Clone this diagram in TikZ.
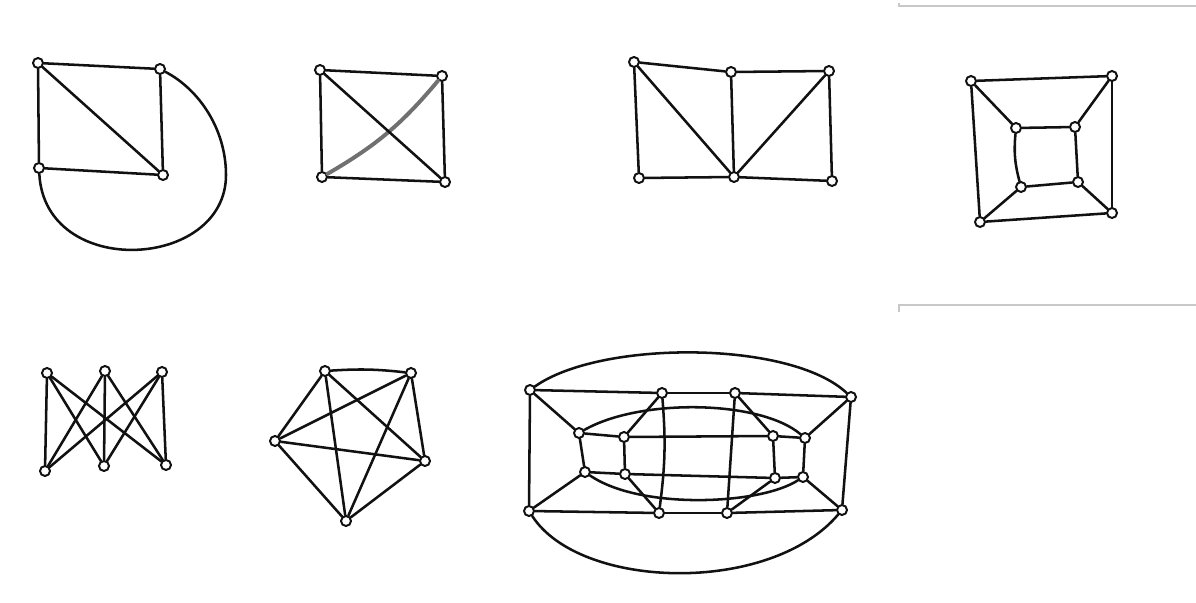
\documentclass[tikz,border=0pt]{standalone}
\usepackage{tikz}
\usetikzlibrary{positioning}
\definecolor{InkBlack}{HTML}{111111}
\definecolor{PencilGray}{HTML}{707070}
\definecolor{RuleGray}{HTML}{C8C8C8}

\begin{document}
\begin{tikzpicture}[
    x=0.025cm, y=-0.025cm,
    vert/.style={circle, draw=InkBlack, line width=1.4pt, fill=white, inner sep=0pt, minimum size=0.25cm},
    edge/.style={draw=InkBlack, line width=1.8pt, line cap=round},
    pale/.style={draw=PencilGray, line width=2.8pt, line cap=round},
    rule/.style={draw=RuleGray, line width=0.9pt}
]
\useasboundingbox (0,0) rectangle (1196,603);

% page rules on the right
\draw[rule] (899,3) -- (899,6) -- (1196,6);
\draw[rule] (899,312) -- (899,305) -- (1196,305);

% square with diagonal and outer loop
\node[vert] (a1) at (38,63) {};
\node[vert] (a2) at (160,69) {};
\node[vert] (a3) at (39,168) {};
\node[vert] (a4) at (163,175) {};
\draw[edge] (a1) -- (a2);
\draw[edge] (a1) -- (a3);
\draw[edge] (a1) -- (a4);
\draw[edge] (a2) -- (a4);
\draw[edge] (a3) -- (a4);
\draw[edge] (a2) .. controls (200,90) and (226,130) .. (226,175) .. controls (226,270) and (45,280) .. (a3);

% square with both diagonals
\node[vert] (b1) at (320,70) {};
\node[vert] (b2) at (442,76) {};
\node[vert] (b3) at (322,177) {};
\node[vert] (b4) at (445,182) {};
\draw[pale] (b3) to[bend right=10] (b2);
\draw[edge] (b1) -- (b2);
\draw[edge] (b1) -- (b3);
\draw[edge] (b2) -- (b4);
\draw[edge] (b3) -- (b4);
\draw[edge] (b1) -- (b4);

% fan of triangles
\node[vert] (c1) at (634,62) {};
\node[vert] (c2) at (731,72) {};
\node[vert] (c3) at (829,71) {};
\node[vert] (c4) at (639,178) {};
\node[vert] (c5) at (734,177) {};
\node[vert] (c6) at (832,181) {};
\draw[edge] (c1) -- (c2);
\draw[edge] (c2) -- (c3);
\draw[edge] (c1) -- (c4);
\draw[edge] (c3) -- (c6);
\draw[edge] (c4) -- (c5);
\draw[edge] (c5) -- (c6);
\draw[edge] (c1) -- (c5);
\draw[edge] (c2) -- (c5);
\draw[edge] (c3) -- (c5);

% cube
\node[vert] (d1) at (971,81) {};
\node[vert] (d2) at (1112,76) {};
\node[vert] (d3) at (980,222) {};
\node[vert] (d4) at (1112,213) {};
\node[vert] (d5) at (1016,128) {};
\node[vert] (d6) at (1075,127) {};
\node[vert] (d7) at (1021,187) {};
\node[vert] (d8) at (1078,182) {};
\draw[edge] (d1) -- (d2);
\draw[edge] (d2) -- (d4);
\draw[edge] (d4) -- (d3);
\draw[edge] (d3) -- (d1);
\draw[edge] (d5) -- (d6);
\draw[edge] (d6) -- (d8);
\draw[edge] (d8) -- (d7);
\draw[edge] (d5) to[bend right=10] (d7);
\draw[edge] (d1) -- (d5);
\draw[edge] (d2) -- (d6);
\draw[edge] (d3) -- (d7);
\draw[edge] (d4) -- (d8);

% K3,3
\node[vert] (e1) at (47,373) {};
\node[vert] (e2) at (105,371) {};
\node[vert] (e3) at (162,372) {};
\node[vert] (e4) at (45,471) {};
\node[vert] (e5) at (104,466) {};
\node[vert] (e6) at (166,465) {};
\draw[edge] (e1) -- (e4);
\draw[edge] (e1) -- (e5);
\draw[edge] (e1) -- (e6);
\draw[edge] (e2) -- (e4);
\draw[edge] (e2) -- (e5);
\draw[edge] (e2) -- (e6);
\draw[edge] (e3) -- (e4);
\draw[edge] (e3) -- (e5);
\draw[edge] (e3) -- (e6);

% K5
\node[vert] (f1) at (325,371) {};
\node[vert] (f2) at (411,373) {};
\node[vert] (f3) at (275,441) {};
\node[vert] (f4) at (425,461) {};
\node[vert] (f5) at (346,521) {};
\draw[edge] (f1) to[bend left=5] (f2);
\draw[edge] (f1) -- (f3);
\draw[edge] (f1) -- (f4);
\draw[edge] (f1) -- (f5);
\draw[edge] (f2) -- (f3);
\draw[edge] (f2) -- (f4);
\draw[edge] (f2) -- (f5);
\draw[edge] (f3) -- (f4);
\draw[edge] (f3) -- (f5);
\draw[edge] (f4) -- (f5);

% nested rings
\node[vert] (g1) at (530,390) {};
\node[vert] (g2) at (662,393) {};
\node[vert] (g3) at (735,393) {};
\node[vert] (g4) at (851,397) {};
\node[vert] (g5) at (579,433) {};
\node[vert] (g6) at (624,437) {};
\node[vert] (g7) at (773,436) {};
\node[vert] (g8) at (805,438) {};
\node[vert] (g9) at (585,472) {};
\node[vert] (g10) at (625,474) {};
\node[vert] (g11) at (775,478) {};
\node[vert] (g12) at (803,477) {};
\node[vert] (g13) at (529,511) {};
\node[vert] (g14) at (659,513) {};
\node[vert] (g15) at (727,513) {};
\node[vert] (g16) at (842,510) {};
\draw[edge] (g1) .. controls (600,340) and (790,340) .. (g4);
\draw[edge] (g13) .. controls (580,590) and (770,595) .. (g16);
\draw[edge] (g5) .. controls (640,398) and (760,400) .. (g8);
\draw[edge] (g9) .. controls (640,510) and (760,505) .. (g12);
\draw[edge] (g1) -- (g2);
\draw[edge] (g2) -- (g3);
\draw[edge] (g3) -- (g4);
\draw[edge] (g13) -- (g14);
\draw[edge] (g14) -- (g15);
\draw[edge] (g15) -- (g16);
\draw[edge] (g1) -- (g13);
\draw[edge] (g4) -- (g16);
\draw[edge] (g1) -- (g5);
\draw[edge] (g4) -- (g8);
\draw[edge] (g13) -- (g9);
\draw[edge] (g16) -- (g12);
\draw[edge] (g5) -- (g6);
\draw[edge] (g6) -- (g7);
\draw[edge] (g7) -- (g8);
\draw[edge] (g9) -- (g10);
\draw[edge] (g10) -- (g11);
\draw[edge] (g11) -- (g12);
\draw[edge] (g5) -- (g9);
\draw[edge] (g6) -- (g10);
\draw[edge] (g7) -- (g11);
\draw[edge] (g8) -- (g12);
\draw[edge] (g2) -- (g6);
\draw[edge] (g3) -- (g7);
\draw[edge] (g10) -- (g14);
\draw[edge] (g11) -- (g15);
\draw[edge] (g2) to[bend left=6] (g14);
\draw[edge] (g3) -- (g15);
\end{tikzpicture}
\end{document}
